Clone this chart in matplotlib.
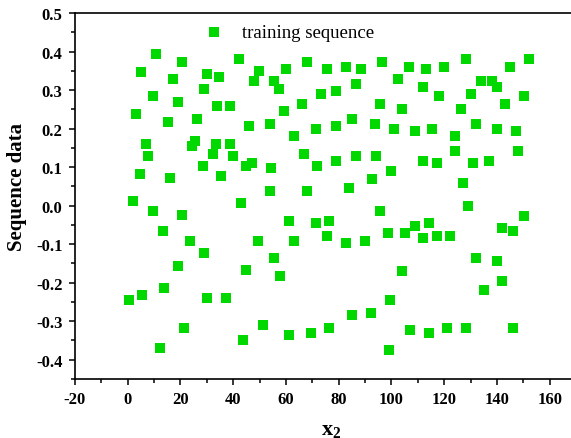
import numpy as np
import matplotlib
matplotlib.use('Agg')
import matplotlib.pyplot as plt
from matplotlib.ticker import MultipleLocator

# points (x2, sequence value)
x_vals = [10.9, 20.7, 42.2, 4.9, 17.1, 30.0, 34.6, 49.8, 48.0, 28.8,
          9.6, 19.2, 33.9, 38.8, 3.3, 15.3, 26.3, 45.9, 7.1, 25.5,
          24.5, 33.4, 38.8, 7.5, 32.5, 40.1, 28.4, 44.7, 47.1, 4.6,
          16.2, 35.5, 2.0, 43.0, 9.6, 20.4,
          13.3, 23.8, 49.3, 28.8, 19.2, 44.7, 13.7, 5.3, 0.3, 30.0,
          37.2, 21.2, 51.2, 43.7, 12.1,
          68.1, 60.0, 75.6, 82.7, 88.5, 96.6, 106.7, 55.6, 57.3, 73.2,
          79.0, 86.5, 102.4, 66.1, 59.3, 95.7, 104.1, 54.0, 63.1, 71.4,
          79.0, 85.2, 93.7, 101.1, 54.3, 66.9, 71.8, 79.0, 86.5, 94.0,
          99.8, 92.6, 54.0, 68.1, 83.9, 95.7,
          61.1, 71.4, 76.5, 63.1, 75.6, 82.8, 89.9, 98.7, 105.2, 55.6,
          57.6, 104.1, 99.5, 92.3, 85.2, 61.1, 69.4, 76.5, 107.1, 99.1,
          113.1, 120.1, 128.1, 145.1, 152.1, 112.0, 118.1, 130.1, 134.0, 138.1,
          140.0, 150.2, 143.1, 126.2, 132.1, 109.1, 115.2, 124.1, 140.0, 147.1,
          124.1, 148.0, 112.0, 117.2, 131.1, 137.0, 127.2, 129.0, 150.2,
          109.1, 114.1, 112.0, 117.1, 122.1, 142.1, 146.1, 132.1, 140.0, 142.1,
          135.1, 114.1, 121.1, 128.1, 146.1]
y_vals = [0.394, 0.373, 0.380, 0.347, 0.328, 0.342, 0.334, 0.349, 0.323, 0.302,
          0.284, 0.270, 0.258, 0.258, 0.238, 0.218, 0.225, 0.206, 0.160, 0.168,
          0.154, 0.160, 0.160, 0.128, 0.134, 0.128, 0.102, 0.102, 0.110, 0.083,
          0.071, 0.077, 0.012, 0.006, -0.014, -0.024,
          -0.065, -0.091, -0.091, -0.124, -0.156, -0.168, -0.214, -0.233, -0.246, -0.240,
          -0.240, -0.317, -0.311, -0.350, -0.369,
          0.373, 0.355, 0.355, 0.360, 0.355, 0.373, 0.360, 0.323, 0.302, 0.290,
          0.297, 0.316, 0.329, 0.265, 0.245, 0.265, 0.252, 0.212, 0.181, 0.199,
          0.206, 0.226, 0.213, 0.200, 0.097, 0.134, 0.102, 0.115, 0.128, 0.128,
          0.089, 0.070, 0.038, 0.038, 0.045, -0.014,
          -0.040, -0.046, -0.040, -0.091, -0.078, -0.097, -0.091, -0.072, -0.072, -0.136,
          -0.182, -0.169, -0.246, -0.278, -0.285, -0.337, -0.330, -0.317, -0.324, -0.376,
          0.355, 0.360, 0.380, 0.360, 0.380, 0.309, 0.284, 0.290, 0.323, 0.323,
          0.309, 0.284, 0.264, 0.252, 0.213, 0.193, 0.200, 0.181, 0.200, 0.193,
          0.141, 0.141, 0.115, 0.110, 0.110, 0.115, 0.058, -0.001, -0.027,
          -0.052, -0.046, -0.085, -0.078, -0.078, -0.059, -0.065, -0.136, -0.143, -0.195,
          -0.220, -0.330, -0.317, -0.317, -0.317]

y_ticks = [-0.4, -0.3, -0.2, -0.1, 0.0, 0.1, 0.2, 0.3, 0.4, 0.5]
x_ticks = [-20, 0, 20, 40, 60, 80, 100, 120, 140, 160]

plt.rcParams['font.family'] = ['Liberation Serif', 'DejaVu Serif']
plt.rcParams['axes.unicode_minus'] = False
plt.rcParams['mathtext.fontset'] = 'custom'
plt.rcParams['mathtext.rm'] = 'Liberation Serif'
plt.rcParams['mathtext.it'] = 'Liberation Serif:italic'
plt.rcParams['mathtext.bf'] = 'Liberation Serif:bold'

fig = plt.figure(figsize=(5.71, 4.39), dpi=100)
ax = fig.add_axes([75 / 571, 1 - 380 / 439, 501 / 571, 366 / 439])

ax.scatter(x_vals, y_vals, marker='s', s=42, color='#00d800', linewidths=0,
           label='training sequence', zorder=3)

ax.set_xlim(-20, 170)
ax.set_ylim(-0.45, 0.5)
ax.set_xticks(x_ticks)
ax.set_xticklabels([str(v) for v in x_ticks])
ax.set_yticks(y_ticks)
ax.set_yticklabels(['%.1f' % v for v in y_ticks])
ax.xaxis.set_minor_locator(MultipleLocator(10))
ax.yaxis.set_minor_locator(MultipleLocator(0.05))
ax.tick_params(which='both', direction='out', width=1.1, labelsize=12)
ax.tick_params(which='major', length=4)
ax.tick_params(which='minor', length=3)
ax.tick_params(axis='x', pad=5)
ax.tick_params(axis='y', pad=5)
for lab in ax.get_xticklabels() + ax.get_yticklabels():
    lab.set_fontweight('bold')

for sp in ax.spines.values():
    sp.set_linewidth(1.2)

ax.set_xlabel('$\\mathbf{x_2}$', fontsize=16)
ax.xaxis.set_label_coords((331 - 75) / 501, -(421 - 380) / 366)
ax.set_ylabel('Sequence data', fontsize=15, fontweight='bold')
ax.yaxis.set_label_coords(-(75 - 27) / 501, (380 - 187) / 366)

ax.legend(loc='upper left', bbox_to_anchor=(0.2066, 1.016), frameon=False,
          fontsize=13.5, handletextpad=0.46, handlelength=2.0)

fig.savefig('out.png', dpi=100)
